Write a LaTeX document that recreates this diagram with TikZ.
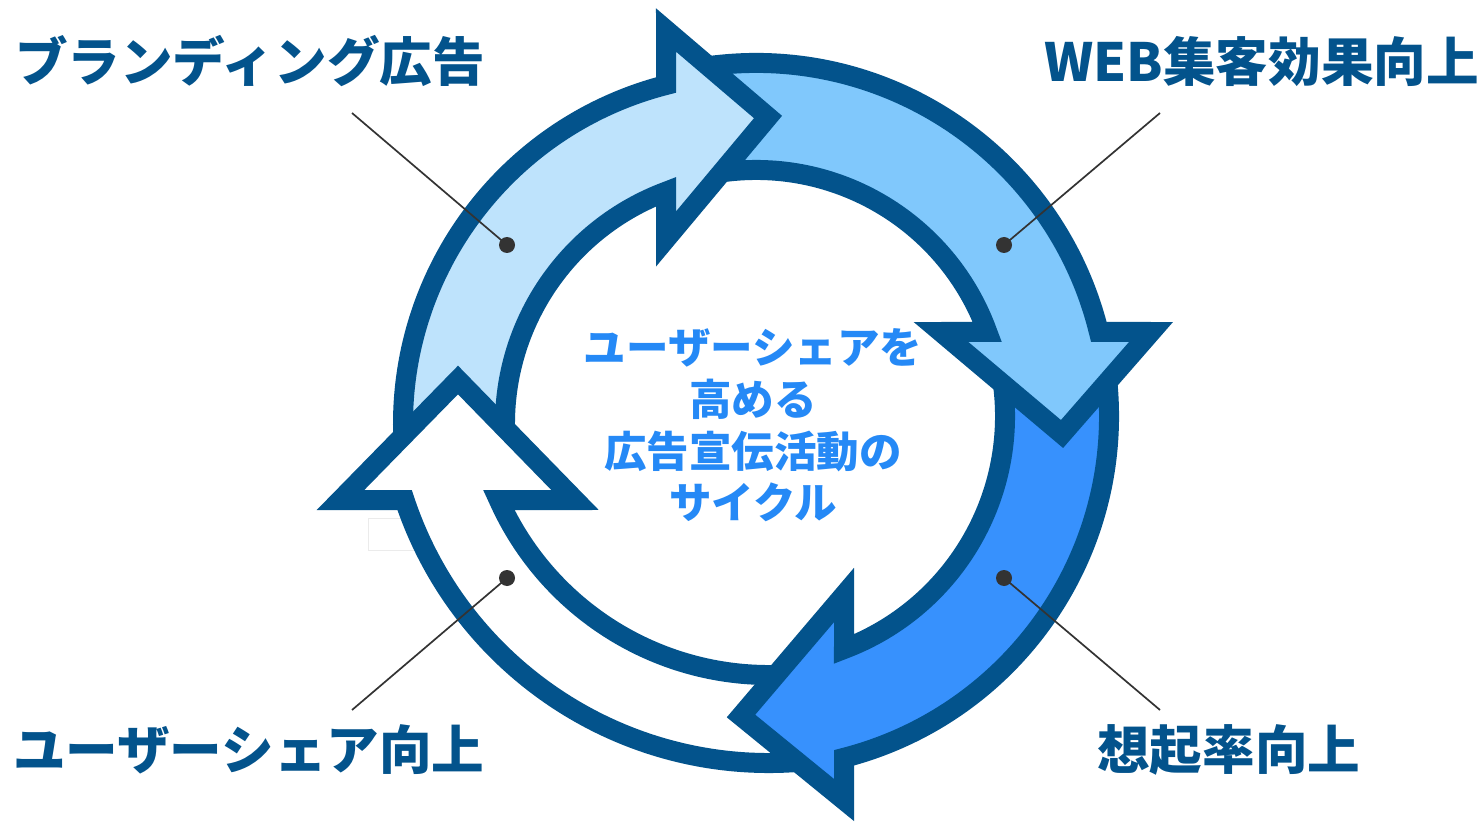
\documentclass[tikz,border=0pt]{standalone}
\usepackage{fontspec}
\setmainfont{Noto Sans CJK JP}
\usetikzlibrary{intersections,calc}
\definecolor{dk}{HTML}{03538C}
\definecolor{fillL}{HTML}{BEE3FC}
\definecolor{fillM}{HTML}{80C8FC}
\definecolor{fillB}{HTML}{3791FD}
\definecolor{ctxt}{HTML}{2589F6}
\definecolor{lead}{HTML}{333333}
\def\roL{350}\def\riL{248}
\def\roM{353}\def\riM{246}
\def\roB{353}\def\riB{249}
\def\roW{384}\def\riW{296}
% geometry of one ring arrow: circles, head edges
\newcommand{\ringsetup}[1]{%
  \path[name path=#1out] (#1c) circle[radius=\csname ro#1\endcsname pt];
  \path[name path=#1in] (#1c) circle[radius=\csname ri#1\endcsname pt];
  \path[name path=#1back] (#1Bo) -- (#1Bi);
  \path[name path=#1eo] (#1T) -- (#1Bo);
  \path[name path=#1ei] (#1T) -- (#1Bi);
}
\newcommand{\ringpts}[2]{%
  \path[name intersections={of=#1out and #1back, by=#1ho}];
  \path[name intersections={of=#1in and #1back, by=#1hi}];
  \path[name intersections={of=#1out and #2eo, by=#1to}];
  \path[name intersections={of=#1in and #2ei, by=#1ti}];
}
\newcommand{\ringpath}[1]{%
  let \p1=($(#1to)-(#1c)$), \p2=($(#1ho)-(#1c)$), \p3=($(#1hi)-(#1c)$), \p4=($(#1ti)-(#1c)$),
      \n1={atan2(\y1,\x1)}, \n2={atan2(\y2,\x2)}, \n3={atan2(\y3,\x3)}, \n4={atan2(\y4,\x4)},
      \n5={ifthenelse(\n2>\n1,\n2-360,\n2)}, \n6={ifthenelse(\n4<\n3,\n4+360,\n4)} in
  (#1to) arc[start angle=\n1, end angle=\n5, radius=\csname ro#1\endcsname pt]
  -- (#1Bo) -- (#1T) -- (#1Bi) -- (#1hi)
  arc[start angle=\n3, end angle=\n6, radius=\csname ri#1\endcsname pt]}
\begin{document}
\begin{tikzpicture}[x=1pt,y=1pt,
  ringline/.style={draw=dk, line width=20pt, line join=miter, miter limit=10},
  lbl/.style={inner sep=0pt, text=dk, font=\fontsize{52.6}{60}\selectfont\bfseries},
  ctr/.style={inner sep=0pt, text=ctxt, font=\fontsize{42.5}{50}\selectfont\bfseries, anchor=base},
  leader/.style={draw=lead, line width=1.7pt},
  dot/.style={circle, fill=lead, inner sep=0pt, minimum size=16pt}]
\useasboundingbox (0,0) rectangle (1483,-826);
\fill[white] (0,0) rectangle (1483,-826);
% faint box
\draw[draw=black!8, line width=1pt] (368,-518) rectangle (432,-550);
% centres of the four arcs
\coordinate (Lc) at (753,-424);
\coordinate (Mc) at (756,-416);
\coordinate (Bc) at (756,-416);
\coordinate (Wc) at (769,-379);
% heads: Bo = outer back corner, T = tip, Bi = inner back corner
\coordinate (LBo) at (666,-30);   \coordinate (LT) at (768,-117); \coordinate (LBi) at (666,-239);
\coordinate (MBo) at (1151,-332); \coordinate (MT) at (1062,-434); \coordinate (MBi) at (941,-332);
\coordinate (BBo) at (844,-800);  \coordinate (BT) at (741,-716); \coordinate (BBi) at (844,-595);
\coordinate (WBo) at (340.5,-500); \coordinate (WT) at (458,-380); \coordinate (WBi) at (575,-500);
\ringsetup{L}\ringsetup{M}\ringsetup{B}\ringsetup{W}
\ringpts{L}{W}\ringpts{M}{L}\ringpts{B}{M}\ringpts{W}{B}
% fills
\fill[white] \ringpath{W} -- (BT) -- cycle;
\fill[fillL] \ringpath{L} -- (WT) -- cycle;
\fill[fillM] \ringpath{M} -- (LT) -- cycle;
\fill[fillB] \ringpath{B} -- (MT) -- cycle;
% outlines
\draw[ringline] \ringpath{W};
\draw[ringline] \ringpath{L};
\draw[ringline] \ringpath{M};
\draw[ringline] \ringpath{B};
% leaders
\node[dot] (dL) at (507,-245) {};
\node[dot] (dM) at (1004,-245) {};
\node[dot] (dB) at (1004,-578) {};
\node[dot] (dW) at (507,-578) {};
\coordinate (eL) at (352,-113);
\coordinate (eM) at (1160,-113);
\coordinate (eB) at (1160,-710);
\coordinate (eW) at (352,-710);
\draw[leader] (eL) -- (dL.center);
\draw[leader] (eM) -- (dM.center);
\draw[leader] (eB) -- (dB.center);
\draw[leader] (eW) -- (dW.center);
% labels
\node[lbl, anchor=base west] (tL) at (15,-82) {ブランディング広告};
\node[lbl, anchor=base east] (tM) at (1479,-82) {WEB集客効果向上};
\node[lbl, anchor=base west] (tW) at (13,-769) {ユーザーシェア向上};
\node[lbl, anchor=base west] (tB) at (1097,-769) {想起率向上};
% centre text
\node[ctr] (c1) at (753,-363) {ユーザーシェアを};
\node[ctr] (c2) at (753,-415) {高める};
\node[ctr] (c3) at (753,-467) {広告宣伝活動の};
\node[ctr] (c4) at (753,-518) {サイクル};
\end{tikzpicture}
\end{document}
